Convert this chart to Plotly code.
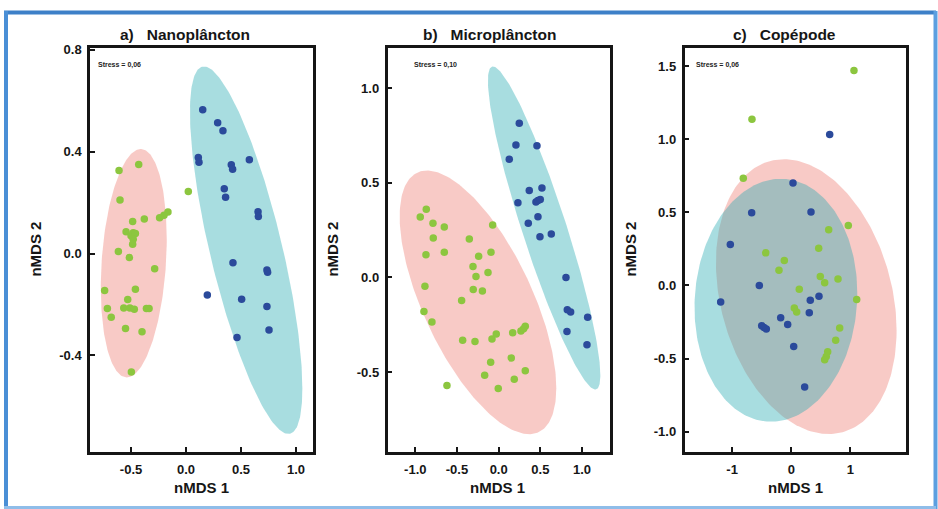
import numpy as np
import plotly.graph_objects as go

W, H = 938, 509

# ---------------- data ----------------
panel_titles = ["a)\u00a0\u00a0\u00a0Nanoplâncton", "b)\u00a0\u00a0\u00a0Microplâncton", "c)\u00a0\u00a0\u00a0Copépode"]
stress_labels = ["Stress = 0,06", "Stress = 0,10", "Stress = 0,06"]

a_green_x = [-0.609, -0.43, -0.60, 0.021, -0.164, -0.20, -0.24, -0.379, -0.485, -0.545, -0.48, -0.50,
             -0.46, -0.48, -0.485, -0.615, -0.515, -0.285, -0.74, -0.46, -0.53, -0.715, -0.566, -0.51,
             -0.47, -0.36, -0.336, -0.68, -0.55, -0.40, -0.497]
a_green_y = [0.326, 0.349, 0.21, 0.243, 0.163, 0.15, 0.14, 0.135, 0.126, 0.085, 0.082, 0.07,
             0.079, 0.056, 0.036, 0.008, -0.016, -0.06, -0.145, -0.14, -0.18, -0.216, -0.214, -0.214,
             -0.219, -0.216, -0.216, -0.25, -0.294, -0.307, -0.465]
a_blue_x = [0.152, 0.288, 0.336, 0.112, 0.118, 0.576, 0.412, 0.424, 0.348, 0.36, 0.655, 0.658,
            0.427, 0.736, 0.742, 0.194, 0.506, 0.736, 0.755, 0.464]
a_blue_y = [0.564, 0.513, 0.482, 0.377, 0.358, 0.368, 0.348, 0.331, 0.254, 0.221, 0.164, 0.145,
            -0.036, -0.065, -0.073, -0.163, -0.179, -0.208, -0.30, -0.329]

b_green_x = [-0.868, -0.94, -0.788, -0.652, -0.072, -0.784, -0.352, -0.652, -0.872, -0.24, -0.092,
             -0.308, -0.128, -0.272, -0.884, -0.305, -0.195, -0.444, -0.896, -0.80, -0.432, -0.284,
             -0.08, -0.029, 0.168, 0.267, 0.299, 0.319, -0.096, 0.151, -0.168, 0.319, 0.187, -0.005, -0.62]
b_green_y = [0.36, 0.319, 0.286, 0.267, 0.277, 0.208, 0.203, 0.133, 0.119, 0.112, 0.133,
             0.058, 0.026, 0.005, -0.047, -0.064, -0.072, -0.122, -0.18, -0.236, -0.332, -0.339,
             -0.326, -0.30, -0.293, -0.283, -0.271, -0.258, -0.449, -0.426, -0.517, -0.494, -0.538, -0.588, -0.572]
b_blue_x = [0.247, 0.207, 0.459, 0.127, 0.367, 0.519, 0.231, 0.447, 0.471, 0.499, 0.471, 0.355,
            0.495, 0.631, 0.807, 0.823, 0.863, 1.067, 0.819, 1.059]
b_blue_y = [0.815, 0.70, 0.696, 0.625, 0.459, 0.473, 0.394, 0.398, 0.407, 0.412, 0.321, 0.286,
            0.215, 0.23, 0.0, -0.171, -0.183, -0.211, -0.286, -0.356]

c_green_x = [1.059, -0.664, -0.811, 0.963, 0.632, 0.463, -0.432, -0.118, -0.208, 0.49, 0.564, 0.789,
             0.135, 1.105, 0.051, 0.091, 0.818, 0.75, 0.615, 0.591, 0.564]
c_green_y = [1.47, 1.137, 0.733, 0.41, 0.381, 0.254, 0.223, 0.171, 0.104, 0.061, 0.018, 0.045,
             -0.025, -0.095, -0.154, -0.181, -0.291, -0.375, -0.453, -0.485, -0.507]
c_blue_x = [0.649, 0.029, -0.669, 0.333, -1.03, -0.54, -1.193, 0.468, 0.321, 0.304, -0.179, -0.061,
            -0.5, -0.461, -0.422, 0.041, 0.226]
c_blue_y = [1.032, 0.701, 0.498, 0.503, 0.281, 0.0, -0.113, -0.074, -0.101, -0.187, -0.221, -0.267,
            -0.275, -0.287, -0.298, -0.417, -0.693]

# ellipse parameters: centre x, centre y, half-width x, half-height y, phase (deg)
a_pink_ell = [-0.475, -0.038, 0.300, 0.448, 77.8]
a_cyan_ell = [0.547, 0.013, 0.511, 0.721, 138.7]
b_pink_ell = [-0.248, -0.132, 0.939, 0.697, 130.6]
b_cyan_ell = [0.545, 0.261, 0.674, 0.854, 155.6]
c_pink_ell = [0.253, -0.076, 1.526, 0.939, 104.3]
c_cyan_ell = [-0.26, -0.101, 1.375, 0.83, 86.6]

a_xticks = [-0.5, 0.0, 0.5, 1.0]
a_xlabels = ["-0.5", "0.0", "0.5", "1.0"]
a_yticks = [-0.4, 0.0, 0.4, 0.8]
a_ylabels = ["-0.4", "0.0", "0.4", "0.8"]
b_xticks = [-1.0, -0.5, 0.0, 0.5, 1.0]
b_xlabels = ["-1.0", "-0.5", "0.0", "0.5", "1.0"]
b_yticks = [-0.5, 0.0, 0.5, 1.0]
b_ylabels = ["-0.5", "0.0", "0.5", "1.0"]
c_xticks = [-1, 0, 1]
c_xlabels = ["-1", "0", "1"]
c_yticks = [-1.0, -0.5, 0.0, 0.5, 1.0, 1.5]
c_ylabels = ["-1.0", "-0.5", "0.0", "0.5", "1.0", "1.5"]

# ---------------- style ----------------
GREEN = "#8cc63f"
BLUE = "#2b4a9b"
PINK_FILL = "rgba(238,122,112,0.40)"
CYAN_FILL = "rgba(38,170,178,0.40)"
FONT = "Liberation Sans, Arial, sans-serif"
INK = "#161616"

def px_x(p):
    return p / W

def px_y(p):
    return 1 - p / H

domains_x = [[px_x(90), px_x(313)], [px_x(387.5), px_x(610)], [px_x(684.5), px_x(906)]]
domain_y = [px_y(451), px_y(43)]
ranges_x = [[-0.873, 1.155], [-1.333, 1.335], [-1.804, 1.938]]
ranges_y = [[-0.777, 0.808], [-0.921, 1.215], [-1.135, 1.626]]

def ellipse(params, n=240):
    cx, cy, rx, ry, d = params
    t = np.linspace(0, 2 * np.pi, n)
    return cx + rx * np.cos(t), cy + ry * np.cos(t - np.deg2rad(d))

fig = go.Figure()

panels = [
    (a_pink_ell, a_cyan_ell, a_green_x, a_green_y, a_blue_x, a_blue_y),
    (b_pink_ell, b_cyan_ell, b_green_x, b_green_y, b_blue_x, b_blue_y),
    (c_pink_ell, c_cyan_ell, c_green_x, c_green_y, c_blue_x, c_blue_y),
]
for i, (pe, ce, gx, gy, bx, by) in enumerate(panels):
    xa = "x" if i == 0 else f"x{i+1}"
    ya = "y" if i == 0 else f"y{i+1}"
    ex, ey = ellipse(pe)
    fig.add_trace(go.Scatter(x=ex, y=ey, mode="lines", fill="toself", fillcolor=PINK_FILL,
                             line=dict(width=0), hoverinfo="skip", showlegend=False, xaxis=xa, yaxis=ya))
    ex, ey = ellipse(ce)
    fig.add_trace(go.Scatter(x=ex, y=ey, mode="lines", fill="toself", fillcolor=CYAN_FILL,
                             line=dict(width=0), hoverinfo="skip", showlegend=False, xaxis=xa, yaxis=ya))
    fig.add_trace(go.Scatter(x=gx, y=gy, mode="markers", marker=dict(size=7.5, color=GREEN),
                             showlegend=False, xaxis=xa, yaxis=ya))
    fig.add_trace(go.Scatter(x=bx, y=by, mode="markers", marker=dict(size=7.5, color=BLUE),
                             showlegend=False, xaxis=xa, yaxis=ya))

tick_sets = [(a_xticks, a_xlabels, a_yticks, a_ylabels),
             (b_xticks, b_xlabels, b_yticks, b_ylabels),
             (c_xticks, c_xlabels, c_yticks, c_ylabels)]

layout = dict(width=W, height=H, margin=dict(l=0, r=0, t=0, b=0),
              paper_bgcolor="white", plot_bgcolor="white", showlegend=False)

for i in range(3):
    xt, xl, yt, yl = tick_sets[i]
    common = dict(showline=True, linecolor=INK, linewidth=2.5, mirror=True,
                  ticks="inside", ticklen=5, tickwidth=2, tickcolor=INK,
                  showgrid=False, zeroline=False,
                  tickfont=dict(family=FONT, size=13, color=INK, weight="bold"))
    xk = "xaxis" if i == 0 else f"xaxis{i+1}"
    yk = "yaxis" if i == 0 else f"yaxis{i+1}"
    ya = "y" if i == 0 else f"y{i+1}"
    xa = "x" if i == 0 else f"x{i+1}"
    layout[xk] = dict(domain=domains_x[i], range=ranges_x[i], anchor=ya,
                      tickvals=xt, ticktext=xl, ticklabelstandoff=4, **common)
    layout[yk] = dict(domain=domain_y, range=ranges_y[i], anchor=xa,
                      tickvals=yt, ticktext=yl, ticklabelstandoff=3, **common)

annotations = []
title_cx = [185, 489, 784]
xtitle_cx = [201, 498, 795]
ytitle_cx = [36, 333, 631]
stress_lx = [96, 412, 694]
for i in range(3):
    annotations.append(dict(text=f"<b>{panel_titles[i]}</b>", x=px_x(title_cx[i]), y=px_y(29.5),
                            xref="paper", yref="paper", xanchor="center", yanchor="middle",
                            showarrow=False, font=dict(family=FONT, size=15.5, color=INK)))
    annotations.append(dict(text="<b>nMDS 1</b>", x=px_x(xtitle_cx[i]), y=px_y(487),
                            xref="paper", yref="paper", xanchor="center", yanchor="middle",
                            showarrow=False, font=dict(family=FONT, size=15, color=INK)))
    annotations.append(dict(text="<b>nMDS 2</b>", x=px_x(ytitle_cx[i]), y=px_y(247), textangle=-90,
                            xref="paper", yref="paper", xanchor="center", yanchor="middle",
                            showarrow=False, font=dict(family=FONT, size=15, color=INK)))
    annotations.append(dict(text=f"<b>{stress_labels[i]}</b>", x=px_x(stress_lx[i]), y=px_y(61),
                            xref="paper", yref="paper", xanchor="left", yanchor="middle",
                            showarrow=False, font=dict(family=FONT, size=7, color="#222")))
layout["annotations"] = annotations

# blue outer frame
layout["shapes"] = [
    dict(type="line", xref="paper", yref="paper", x0=px_x(4), x1=px_x(936), y0=px_y(7.5), y1=px_y(7.5),
         line=dict(color="#3d80c8", width=4)),
    dict(type="line", xref="paper", yref="paper", x0=px_x(6), x1=px_x(6), y0=px_y(6), y1=px_y(509),
         line=dict(color="#4a8fd6", width=4)),
    dict(type="line", xref="paper", yref="paper", x0=px_x(935.5), x1=px_x(935.5), y0=px_y(6), y1=px_y(509),
         line=dict(color="#5c9fe0", width=4)),
    dict(type="line", xref="paper", yref="paper", x0=px_x(4), x1=px_x(936), y0=px_y(507.5), y1=px_y(507.5),
         line=dict(color="#8fbde9", width=3)),
]

fig.update_layout(**layout)
fig.write_html("out.html")
